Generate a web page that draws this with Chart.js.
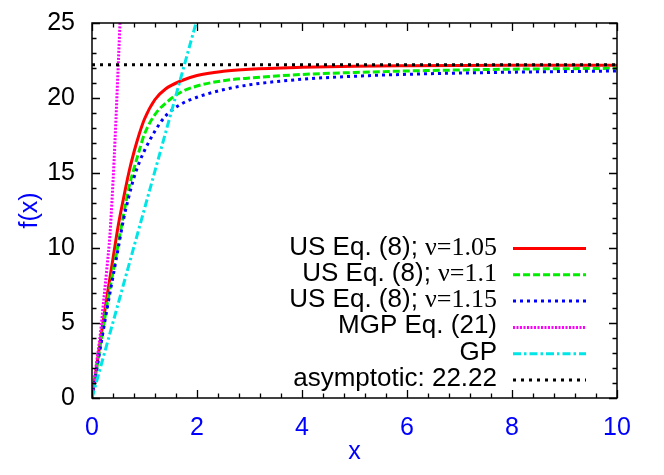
<!DOCTYPE html>
<html><head><meta charset="utf-8">
<script src="https://cdn.jsdelivr.net/npm/chart.js@4/dist/chart.umd.min.js"></script>
<style>html,body{margin:0;padding:0;background:#fff}#wrap{width:664px;height:475px}</style>
</head><body><div id="wrap"><canvas id="c" width="664" height="475"></canvas></div>
<script>
const xTicks = [0, 2, 4, 6, 8, 10];
const yTicks = [0, 5, 10, 15, 20, 25];
const xMinorStep = 0.4;
const yMinorStep = 1;

const labels = ["US Eq. (8); ν=1.05", "US Eq. (8); ν=1.1", "US Eq. (8); ν=1.15", "MGP Eq. (21)", "GP", "asymptotic: 22.22"];

const usX   = [0, 0.1, 0.2, 0.3, 0.4, 0.5, 0.6, 0.7, 0.8, 0.9, 1.0, 1.2, 1.4, 1.7, 2.0, 2.5, 3, 4, 5, 6, 8, 10];
const red   = [0, 2.4, 4.8, 7.1, 9.3, 11.5, 13.3, 15.0, 16.4, 17.6, 18.6, 19.9, 20.6, 21.15, 21.5, 21.78, 21.92, 22.05, 22.12, 22.15, 22.18, 22.19];
const green = [0, 2.2, 4.4, 6.5, 8.4, 10.3, 12.2, 14.0, 15.3, 16.5, 17.6, 18.9, 19.65, 20.4, 20.8, 21.15, 21.33, 21.57, 21.7, 21.8, 21.92, 21.98];
const blue  = [0, 2.1, 4.2, 6.2, 8.1, 10.0, 11.9, 13.4, 14.7, 15.7, 16.5, 17.8, 18.8, 19.6, 20.05, 20.55, 20.88, 21.25, 21.45, 21.58, 21.72, 21.8];

const mgpX = [0, 0.076, 0.16, 0.223, 0.286, 0.34, 0.381, 0.42, 0.457, 0.495, 0.533, 0.55];
const mgpY = [0, 2.07, 4.29, 6.51, 8.73, 10.8, 13.18, 15.8, 18.65, 21.8, 25, 26.5];

const gpX = [0, 2.1];
const gpY = [0, 26.5];

const asymX = [0, 10];
const asymY = [22.22, 22.22];

const pts = (xs, ys) => xs.map((v, i) => ({x: v, y: ys[i]}));

const SANS = "'Liberation Sans', Arial, Helvetica, sans-serif";
const SERIF = "'Liberation Serif', 'Times New Roman', serif";

const styles = [
  {color: '#ff0000', dash: []},
  {color: '#00ee00', dash: [7, 3]},
  {color: '#0000ff', dash: [3, 4]},
  {color: '#ff00ff', dash: [2, 1.5]},
  {color: '#00e5e5', dash: [8, 3, 2.5, 3]},
  {color: '#000000', dash: [3, 5]}
];
const series = [pts(usX, red), pts(usX, green), pts(usX, blue), pts(mgpX, mgpY), pts(gpX, gpY), pts(asymX, asymY)];

const datasets = series.map((d, i) => ({
  label: labels[i],
  data: d,
  borderColor: styles[i].color,
  borderDash: styles[i].dash,
  borderWidth: 3,
  pointRadius: 0,
  fill: false,
  cubicInterpolationMode: (i < 4) ? 'monotone' : 'default',
  tension: 0,
  order: 5 - i
}));

const framePlugin = {
  id: 'frame',
  afterDatasetsDraw(chart) {
    const {ctx, chartArea: a, scales: {x, y}} = chart;
    ctx.save();
    ctx.strokeStyle = '#000';
    ctx.lineWidth = 1.5;
    ctx.setLineDash([]);
    ctx.strokeRect(a.left, a.top, a.right - a.left, a.bottom - a.top);
    ctx.lineWidth = 1.3;
    ctx.beginPath();
    const nx = Math.round((x.max - x.min) / xMinorStep);
    for (let i = 0; i <= nx; i++) {
      const v = x.min + i * xMinorStep;
      const px = Math.round(x.getPixelForValue(v)) + 0.5;
      const L = (i % 5 === 0) ? 8 : 4.5;
      ctx.moveTo(px, a.bottom); ctx.lineTo(px, a.bottom - L);
      ctx.moveTo(px, a.top); ctx.lineTo(px, a.top + L);
    }
    const ny = Math.round((y.max - y.min) / yMinorStep);
    for (let i = 0; i <= ny; i++) {
      const v = y.min + i * yMinorStep;
      const py = Math.round(y.getPixelForValue(v)) + 0.5;
      const L = (i % 5 === 0) ? 8 : 4.5;
      ctx.moveTo(a.left, py); ctx.lineTo(a.left + L, py);
      ctx.moveTo(a.right, py); ctx.lineTo(a.right - L, py);
    }
    ctx.stroke();
    ctx.restore();
  },
  afterDraw(chart) {
    const ctx = chart.ctx;
    const textRight = 497, lineL = 513, lineR = 586, top = 248.5, step = 26.3;
    ctx.save();
    chart.data.datasets.forEach((ds, i) => {
      const yy = top + i * step;
      const lab = ds.label;
      const k = lab.indexOf('ν');
      ctx.fillStyle = '#000';
      ctx.textBaseline = 'alphabetic';
      ctx.textAlign = 'right';
      let right = textRight;
      if (k >= 0) {
        const serifPart = lab.slice(k);
        ctx.font = '26px ' + SERIF;
        ctx.fillText(serifPart, right, yy + 6);
        right -= ctx.measureText(serifPart).width;
        ctx.font = '26px ' + SANS;
        ctx.fillText(lab.slice(0, k), right, yy + 6);
      } else {
        ctx.font = '26px ' + SANS;
        ctx.fillText(lab, right, yy + 6);
      }
      ctx.strokeStyle = ds.borderColor;
      ctx.lineWidth = ds.borderWidth;
      ctx.setLineDash(ds.borderDash);
      ctx.beginPath();
      ctx.moveTo(lineL, yy); ctx.lineTo(lineR, yy);
      ctx.stroke();
    });
    ctx.restore();
  }
};

new Chart(document.getElementById('c'), {
  type: 'line',
  data: {datasets},
  options: {
    responsive: false,
    animation: false,
    devicePixelRatio: 1,
    layout: {padding: {left: 0, top: 23, right: 47, bottom: 0}},
    plugins: {legend: {display: false}, tooltip: {enabled: false}},
    scales: {
      x: {
        type: 'linear', min: 0, max: 10,
        afterFit(s) { s.height = 77; s.paddingLeft = 0; s.paddingRight = 0; },
        afterBuildTicks(s) { s.ticks = xTicks.map(v => ({value: v})); },
        grid: {display: false, drawTicks: false},
        border: {display: false},
        ticks: {color: '#0000ff', font: {family: SANS, size: 25}, padding: 15, maxRotation: 0, autoSkip: false},
        title: {display: true, text: 'x', color: '#0000ff', font: {family: SANS, size: 25}, padding: {top: 0, bottom: 8}}
      },
      y: {
        type: 'linear', min: 0, max: 25,
        afterFit(s) { s.width = 92; s.paddingTop = 0; s.paddingBottom = 0; },
        afterBuildTicks(s) { s.ticks = yTicks.map(v => ({value: v})); },
        grid: {display: false, drawTicks: false},
        border: {display: false},
        ticks: {color: '#000000', font: {family: SANS, size: 25}, padding: 17, autoSkip: false},
        title: {display: true, text: 'f(x)', color: '#0000ff', font: {family: SANS, size: 25}, padding: {top: 15, bottom: 0}}
      }
    }
  },
  plugins: [framePlugin]
});
</script>
</body></html>
